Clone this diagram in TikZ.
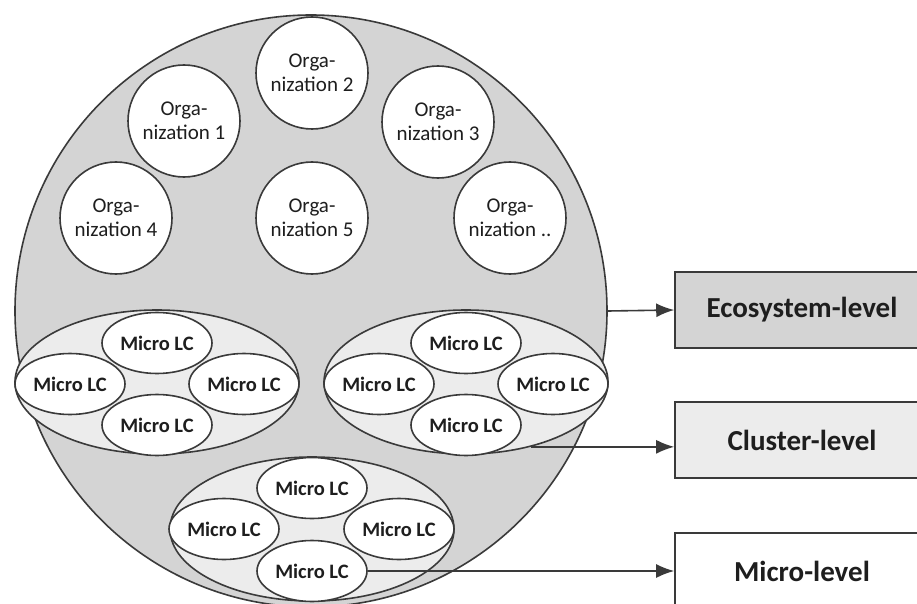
\documentclass[tikz,border=0pt]{standalone}
\usepackage{fontspec}
\setmainfont{Carlito}
\usepackage{tikz}
\usetikzlibrary{shapes.geometric,arrows.meta}
\definecolor{ecogray}{RGB}{212, 212, 212}
\definecolor{clustergray}{RGB}{236, 236, 236}
\definecolor{edgegray}{RGB}{58, 58, 58}
\definecolor{textgray}{RGB}{30, 30, 30}

\begin{document}
\begin{tikzpicture}[x=1pt, y=-1pt, >={Latex[length=18pt,width=14pt]},
    every node/.style={draw=edgegray, line width=1.6pt, text=textgray, inner sep=0pt},
    ecosystem/.style={circle, fill=ecogray, minimum size=592pt},
    org/.style={circle, fill=white, minimum size=112pt, align=center, font=\fontsize{21}{24}\selectfont},
    cluster/.style={ellipse, fill=clustergray, minimum width=284pt, minimum height=144pt},
    microlc/.style={ellipse, fill=white, minimum width=110pt, minimum height=61pt, font=\fontsize{20.5}{24}\selectfont\bfseries},
    levelbox/.style={rectangle, minimum width=254pt, minimum height=76pt, font=\fontsize{29}{34}\selectfont\bfseries}]
    \useasboundingbox (0,0) rectangle (917,604);

    % Ecosystem
    \node[ecosystem] (eco) at (311,311) {};

    % Organizations
    \node[org] (org1) at (184,121) {Orga-\\nization 1};
    \node[org] (org2) at (312,73) {Orga-\\nization 2};
    \node[org] (org3) at (438,122) {Orga-\\nization 3};
    \node[org] (org4) at (116,218) {Orga-\\nization 4};
    \node[org] (org5) at (312,218) {Orga-\\nization 5};
    \node[org] (orgn) at (510,218) {Orga-\\nization ..};

    % Clusters of micro LCs
    \node[cluster] (clusterL) at (157,382) {};
    \node[microlc] (microL1) at (157,343) {Micro LC};
    \node[microlc] (microL2) at (70,384) {Micro LC};
    \node[microlc] (microL3) at (244,384) {Micro LC};
    \node[microlc] (microL4) at (157,425) {Micro LC};

    \node[cluster] (clusterR) at (466,382) {};
    \node[microlc] (microR1) at (466,343) {Micro LC};
    \node[microlc] (microR2) at (379,384) {Micro LC};
    \node[microlc] (microR3) at (553,384) {Micro LC};
    \node[microlc] (microR4) at (466,425) {Micro LC};

    \node[cluster] (clusterB) at (312,529) {};
    \node[microlc] (microB1) at (312,488) {Micro LC};
    \node[microlc] (microB2) at (224,529) {Micro LC};
    \node[microlc] (microB3) at (399,529) {Micro LC};
    \node[microlc] (microB4) at (312,571) {Micro LC};

    % Levels
    \node[levelbox, fill=ecogray] (ecolevel) at (802,310) {Ecosystem-level};
    \node[levelbox, fill=clustergray] (clusterlevel) at (802,440) {Cluster-level};
    \node[levelbox, fill=white] (microlevel) at (802,571) {Micro-level};

    \draw[->, line width=1.6pt, edgegray] (eco.east) -- (ecolevel.west);
    \draw[->, line width=1.6pt, edgegray] (clusterR.-45) -- (clusterR.-45 -| clusterlevel.west);
    \draw[->, line width=1.6pt, edgegray] (microB4.east) -- (microlevel.west);
\end{tikzpicture}
\end{document}
